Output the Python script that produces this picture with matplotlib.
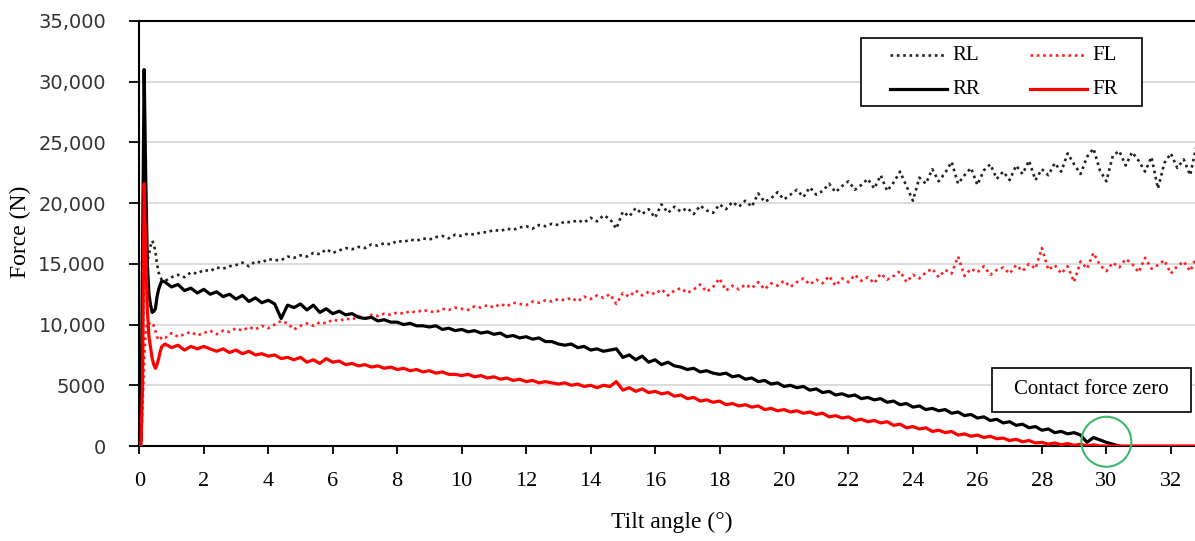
import numpy as np
import matplotlib
matplotlib.use("Agg")
import matplotlib.pyplot as plt
from matplotlib.patches import Ellipse, Rectangle
from matplotlib.lines import Line2D
from matplotlib.ticker import FuncFormatter

# ==================================================
# DATA
# ==================================================

# first part of the run, sampled finer around the start-up spike
early_angle = [0.0, 0.05, 0.1, 0.15, 0.2, 0.25, 0.3, 0.35, 0.4, 0.45, 0.5, 0.55, 0.6, 0.65, 0.7]
# rest of the run, every 0.2 degree from 0.8 to 33.0
main_angle = list(np.round(np.arange(0.8, 33.01, 0.2), 1))
angle = np.array(early_angle + main_angle)

rl_early = [0, 0, 8000, 15000, 15500, 15200, 15800, 16500, 16900, 16600, 16000, 15000, 14300, 13900, 13700]
rl_main = [
    13600, 13900, 14100, 13900, 14300, 14200, 14500, 14400, 14700, 14600,
    14800, 14900, 15100, 14800, 15200, 15100, 15400, 15300, 15300, 15600,
    15500, 15700, 15600, 15900, 15800, 16200, 15900, 16100, 16300, 16200,
    16400, 16300, 16600, 16500, 16700, 16600, 16900, 16800, 17000, 16900,
    17100, 17000, 17200, 17300, 17100, 17400, 17300, 17500, 17400, 17600,
    17600, 17800, 17700, 17900, 17800, 18000, 18100, 17900, 18200, 18100,
    18300, 18200, 18500, 18400, 18600, 18400, 18800, 18500, 19000, 18700,
    17900, 19300, 18900, 19600, 19100, 19500, 18800, 19900, 19200, 19700,
    19300, 19600, 19100, 19800, 19400, 19200, 19900, 19500, 20100, 19700,
    20200, 19700, 20800, 20100, 20400, 20900, 20300, 20700, 21100, 20500,
    21300, 20700, 21000, 21600, 20900, 21400, 21800, 21100, 21500, 22000,
    21200, 22300, 21000, 21700, 22600, 21400, 20200, 22100, 21600, 22800,
    21800, 22500, 23400, 21600, 22300, 22900, 21500, 22700, 23200, 22000,
    22600, 21900, 23100, 22400, 23500, 21900, 22800, 22300, 23300, 22600,
    24100, 23200, 22400, 23800, 24500, 22700, 21800, 23900, 24300, 23100,
    24200, 23500, 22600, 23800, 21200, 23300, 24100, 22900, 23600, 22300,
    24800, 21900,
]

fl_early = [0, 0, 3000, 7000, 9500, 10200, 10100, 10000, 10100, 9900, 9500, 9000, 8700, 8800, 9000]
fl_main = [
    8900, 9300, 9000, 9200, 9400, 9100, 9300, 9500, 9200, 9500,
    9400, 9700, 9500, 9800, 9600, 9900, 9700, 10000, 10300, 10100,
    9600, 9900, 10100, 9900, 10200, 10100, 10400, 10300, 10500, 10400,
    10700, 10500, 10800, 10700, 10900, 10800, 11000, 10900, 11100, 11000,
    11200, 11100, 11000, 11300, 11200, 11400, 11300, 11200, 11500, 11400,
    11600, 11400, 11700, 11500, 11800, 11700, 11600, 11900, 11800, 12000,
    11900, 12100, 12000, 12200, 11900, 12300, 12100, 12400, 12200, 12500,
    11700, 12600, 12300, 12800, 12400, 12700, 12500, 12900, 12400, 12800,
    13000, 12600, 12900, 13300, 12700, 13100, 13800, 12800, 13200, 12900,
    13300, 13000, 13500, 12900, 13400, 13200, 13600, 13100, 13500, 13800,
    13300, 13700, 13400, 14000, 13200, 13800, 13500, 14100, 13600, 13900,
    13400, 14200, 13700, 14000, 14400, 13500, 14100, 13800, 14300, 14600,
    13900, 14500, 14200, 15600, 14000, 14600, 14300, 14800, 14100, 14500,
    14700, 14200, 14900, 14400, 15000, 14600, 16300, 14500, 14900, 14200,
    14800, 13500, 15200, 14600, 15900, 14900, 14400, 15100, 14700, 15400,
    15000, 14300, 15500, 14600, 14900, 15300, 14200, 14800, 15200, 14400,
    15600, 13700,
]

# RR stops once the wheel leaves the ground (~30.4 deg)
rr_early = [0, 500, 16000, 31000, 22000, 15000, 12500, 11600, 11000, 11100, 11300, 12300, 12900, 13300, 13600]
rr_main = [
    13500, 13100, 13300, 12800, 13000, 12600, 12900, 12500, 12700, 12300,
    12500, 12100, 12400, 11900, 12200, 11800, 12000, 11700, 10500, 11600,
    11400, 11700, 11200, 11600, 11000, 11300, 10900, 11100, 10800, 10900,
    10600, 10500, 10600, 10300, 10400, 10200, 10200, 10000, 10100, 9900,
    9900, 9800, 9900, 9600, 9700, 9500, 9600, 9400, 9500, 9300,
    9400, 9200, 9300, 9000, 9100, 8900, 9000, 8800, 8900, 8600,
    8600, 8400, 8300, 8400, 8100, 8200, 7900, 8000, 7800, 7900,
    8000, 7300, 7500, 7100, 7400, 6900, 7100, 6700, 6900, 6600,
    6500, 6300, 6400, 6100, 6200, 6000, 5900, 6000, 5700, 5800,
    5500, 5600, 5300, 5400, 5100, 5200, 4900, 5000, 4800, 4900,
    4600, 4700, 4400, 4500, 4200, 4300, 4100, 4200, 3900, 4000,
    3800, 3900, 3600, 3700, 3400, 3500, 3200, 3300, 3000, 3100,
    2900, 3000, 2700, 2800, 2500, 2600, 2300, 2400, 2100, 2200,
    1900, 2000, 1700, 1800, 1500, 1600, 1300, 1400, 1100, 1200,
    1000, 1100, 900, 300, 700, 500, 300, 150, 0,
]

fr_early = [0, 0, 5000, 21600, 16000, 11200, 9000, 8100, 7200, 6700, 6400, 6700, 7200, 7800, 8200]
fr_main = [
    8400, 8100, 8300, 7900, 8200, 8000, 8200, 8000, 7800, 8000,
    7700, 7900, 7600, 7800, 7500, 7600, 7400, 7500, 7200, 7300,
    7100, 7300, 6900, 7100, 6800, 7200, 6900, 7000, 6700, 6800,
    6600, 6700, 6500, 6600, 6400, 6500, 6300, 6400, 6200, 6300,
    6100, 6200, 6000, 6100, 5900, 5900, 5800, 5900, 5700, 5800,
    5600, 5700, 5500, 5600, 5400, 5500, 5300, 5400, 5200, 5300,
    5200, 5100, 5200, 5000, 5100, 4900, 5000, 4800, 5000, 4900,
    5300, 4600, 4800, 4500, 4700, 4400, 4500, 4300, 4400, 4100,
    4200, 3900, 4000, 3700, 3800, 3600, 3700, 3400, 3500, 3300,
    3400, 3200, 3300, 3000, 3100, 2900, 3000, 2800, 2900, 2700,
    2800, 2600, 2700, 2400, 2500, 2300, 2400, 2100, 2200, 2000,
    2100, 1900, 2000, 1700, 1800, 1500, 1600, 1400, 1500, 1200,
    1300, 1100, 1200, 900, 1000, 800, 900, 700, 800, 600,
    650, 450, 550, 350, 450, 250, 300, 150, 250, 100,
    200, 50, 150, 0, 100, 0, 0, 0, 0, 0,
    0, 0, 0, 0, 0, 0, 0, 0, 0, 0,
    0, 0,
]

rl = np.array(rl_early + rl_main)
fl = np.array(fl_early + fl_main)
rr = np.array(rr_early + rr_main)
fr = np.array(fr_early + fr_main)

y_ticks = [0, 5000, 10000, 15000, 20000, 25000, 30000, 35000]
x_ticks = [0, 2, 4, 6, 8, 10, 12, 14, 16, 18, 20, 22, 24, 26, 28, 30, 32]

# ==================================================
# PLOT
# ==================================================

W, H = 1195, 541
fig = plt.figure(figsize=(W / 100, H / 100), dpi=100)
ax = fig.add_axes([139.3 / W, 95 / H, 1 - 139.3 / W, 425 / H])

serif = "Liberation Serif"
dotted = (0, (1, 1.4))
styles = {
    "RL": dict(color="#222222", lw=1.9, ls=dotted),
    "FL": dict(color="#ff2020", lw=1.9, ls=dotted),
    "RR": dict(color="black", lw=2.3, ls="-"),
    "FR": dict(color="#ff0000", lw=2.3, ls="-"),
}

ax.plot(angle, rl, zorder=3, **styles["RL"])
ax.plot(angle, fl, zorder=3, **styles["FL"])
ax.plot(angle[:len(rr)], rr, zorder=4, **styles["RR"])
ax.plot(angle, fr, zorder=5, **styles["FR"])

ax.set_xlim(0, 32.75)
ax.set_ylim(0, 35000)
ax.set_xticks(x_ticks)
ax.set_yticks(y_ticks)
ax.yaxis.set_major_formatter(
    FuncFormatter(lambda v, _: "0" if v == 0 else ("5000" if v == 5000 else f"{int(v):,}")))

ax.grid(axis="y", color="#d9d9d9", lw=1.3, zorder=0)
ax.set_axisbelow(True)
for side in ["left", "bottom", "top"]:
    ax.spines[side].set_color("black")
    ax.spines[side].set_linewidth(1.5)
ax.spines["right"].set_visible(False)

ax.tick_params(axis="x", length=6, width=1.3, pad=13, labelsize=16)
ax.tick_params(axis="y", length=7, width=1.3, pad=17, labelsize=14)
for lbl in ax.get_xticklabels():
    lbl.set_fontfamily(serif)
for lbl in ax.get_yticklabels():
    lbl.set_fontfamily("DejaVu Sans")
    lbl.set_color("#333333")

fig.text(20 / W, 1 - 232 / H, "Force (N)", rotation=90, ha="center", va="center",
         fontsize=17, family=serif)
fig.text(672 / W, 1 - 522 / H, "Tilt angle (°)", ha="center", va="center",
         fontsize=17, family=serif)

# legend box drawn by hand to match the wide side padding
fig.patches.append(Rectangle((861 / W, 1 - 106 / H), 281 / W, 68 / H, transform=fig.transFigure,
                             facecolor="white", edgecolor="black", lw=1.2, zorder=6))
legend_slots = [("RL", 890, 55), ("RR", 890, 89), ("FL", 1030, 55), ("FR", 1030, 89)]
for name, x0, y0 in legend_slots:
    fig.add_artist(Line2D([x0 / W, (x0 + 57) / W], [1 - y0 / H, 1 - y0 / H],
                          transform=fig.transFigure, zorder=7, **styles[name]))
    fig.text((x0 + 62) / W, 1 - y0 / H, name, ha="left", va="center",
             fontsize=15, family=serif, zorder=7)

# annotation box and circle at the lift-off point
fig.patches.append(Rectangle((991.7 / W, 1 - 411.7 / H), 199 / W, 43.4 / H, transform=fig.transFigure,
                             facecolor="white", edgecolor="black", lw=1.2, zorder=6))
fig.text(1091 / W, 1 - 390 / H, "Contact force zero", ha="center", va="center",
         fontsize=15, family=serif, zorder=7)

circle = Ellipse((30.0, 350), 50 / 32.25, 50 * 35000 / 425, fill=False,
                 edgecolor="#3cb86a", lw=1.5, clip_on=False, zorder=6)
ax.add_patch(circle)

fig.savefig("out.png", dpi=100)
